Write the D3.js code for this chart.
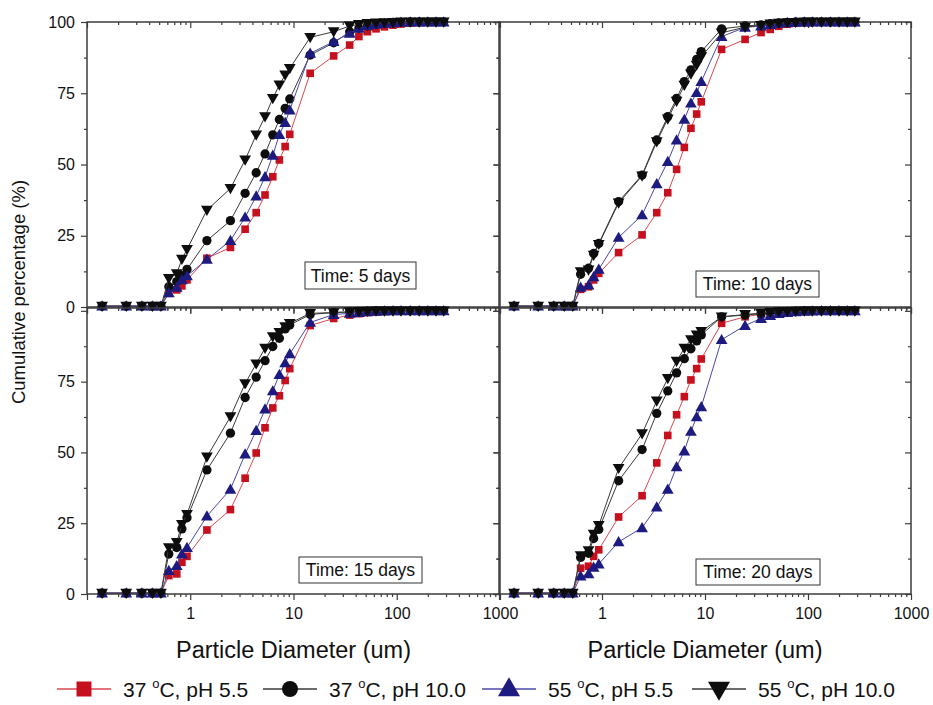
<!DOCTYPE html>
<html><head><meta charset="utf-8">
<script src="https://cdn.jsdelivr.net/npm/d3@7"></script>
<style>
body{margin:0;background:#fff}
svg{display:block}
text{font-family:"Liberation Sans",Arial,sans-serif;fill:#111}
</style>
</head><body>
<svg id="chart" width="933" height="705"></svg>
<script>
// ---------------- DATA ----------------
const diameters = [0.14,0.24,0.34,0.43,0.52,0.62,0.74,0.83,0.93,1.45,2.45,3.4,4.35,5.3,6.3,7.3,8.3,9.2,14.5,24.5,35,43,52,63,76,92,110,135,165,200,240,285];

const seriesTemps = ["37","37","55","55"];
const seriesPH = ["5.5","10.0","5.5","10.0"];
const panelTitles = ["Time: 5 days","Time: 10 days","Time: 15 days","Time: 20 days"];
const xTickValues = [0.1,1,10,100,1000];
const xTickLabels = ["","1","10","100","1000"];
const yTickValues = [0,25,50,75,100];
const yTickLabels = ["0","25","50","75","100"];

// Time: 5 days
const d5_37_55 = [0.3,0.3,0.3,0.3,0.3,4.8,6.0,7.4,9.5,17.1,20.9,27.3,33.1,39.3,45.7,51.6,56.3,60.6,82.0,88.1,91.9,94.9,96.6,97.6,98.3,98.9,99.3,99.6,99.8,99.9,100,100];
const d5_37_10 = [0.3,0.3,0.3,0.3,0.3,7.1,8.9,11.0,13.2,23.3,30.3,39.9,47.1,53.7,60.4,65.8,69.7,73.0,88.4,92.7,96.6,97.8,98.6,99.1,99.5,99.7,99.9,100,100,100,100,100];
const d5_55_55 = [0.3,0.3,0.3,0.3,0.3,5.0,6.9,9.5,10.9,16.7,23.3,31.5,38.9,45.7,53.2,60.5,64.7,69.1,89.0,93.1,96.0,97.8,98.7,99.2,99.5,99.7,99.9,100,100,100,100,100];
const d5_55_10 = [0.3,0.3,0.3,0.3,0.3,10.0,11.7,16.8,20.2,34.0,41.6,51.6,60.4,66.8,73.2,77.9,81.4,83.7,94.6,96.6,98.6,99.2,99.5,99.7,99.8,99.9,100,100,100,100,100,100];
// Time: 10 days
const d10_37_55 = [0.3,0.3,0.3,0.3,0.3,6.2,7.1,9.5,11.8,19.1,25.3,33.1,40.1,48.3,56.0,62.7,67.7,72.0,90.4,93.9,96.3,97.4,98.5,99.2,99.6,99.8,99.9,100,100,100,100,100];
const d10_37_10 = [0.3,0.3,0.3,0.3,0.3,11.5,13.6,18.8,22.3,37.0,46.3,58.6,66.8,73.2,79.1,83.2,86.9,89.6,97.6,98.6,99.0,99.4,99.7,99.9,100,100,100,100,100,100,100,100];
const d10_55_55 = [0.3,0.3,0.3,0.3,0.3,6.9,7.7,10.6,13.2,24.4,32.3,43.2,51.0,58.6,65.8,71.5,75.2,79.1,94.9,98.1,98.6,99.1,99.5,99.7,99.9,100,100,100,100,100,100,100];
const d10_55_10 = [0.3,0.3,0.3,0.3,0.3,12.4,13.0,18.2,22.0,36.5,46.0,58.0,66.0,72.2,77.8,81.8,84.9,87.8,96.2,98.2,98.8,99.3,99.6,99.8,99.9,100,100,100,100,100,100,100];
// Time: 15 days
const d15_37_55 = [0.3,0.3,0.3,0.3,0.3,6.5,7.1,11.2,13.3,22.6,29.8,40.9,49.8,58.7,65.7,70.0,75.4,79.6,94.8,97.3,98.5,99.0,99.4,99.6,99.8,99.9,100,100,100,100,100,100];
const d15_37_10 = [0.3,0.3,0.3,0.3,0.3,14.1,16.4,23.0,26.9,43.8,56.8,69.4,76.6,82.4,87.4,90.3,93.6,95.0,98.7,99.4,99.6,99.8,99.9,100,100,100,100,100,100,100,100,100];
const d15_55_55 = [0.3,0.3,0.3,0.3,0.3,8.3,10.0,14.1,16.4,27.5,37.0,49.4,57.7,65.3,71.7,77.5,81.6,84.8,95.9,98.7,99.1,99.4,99.6,99.8,99.9,100,100,100,100,100,100,100];
const d15_55_10 = [0.3,0.3,0.3,0.3,0.3,16.4,18.2,24.6,28.1,48.4,62.6,74.3,81.3,86.8,90.9,92.4,94.4,95.6,99.1,99.4,99.6,99.8,99.9,100,100,100,100,100,100,100,100,100];
// Time: 20 days
const d20_37_55 = [0.3,0.3,0.3,0.3,0.3,9.1,9.8,13.3,15.6,27.2,34.7,46.3,56.0,63.3,69.7,75.6,79.6,83.0,95.6,97.9,98.8,99.2,99.5,99.7,99.8,99.9,100,100,100,100,100,100];
const d20_37_10 = [0.3,0.3,0.3,0.3,0.3,12.9,14.4,19.6,22.8,40.0,51.0,63.8,71.7,78.1,83.1,86.6,89.4,91.5,97.9,98.5,99.0,99.4,99.6,99.8,99.9,100,100,100,100,100,100,100];
const d20_55_55 = [0.3,0.3,0.3,0.3,0.3,6.3,7.1,9.4,10.6,18.4,23.4,30.7,37.0,44.9,50.5,57.4,62.6,66.1,89.8,94.8,97.3,98.3,99.0,99.4,99.6,99.8,99.9,100,100,100,100,100];
const d20_55_10 = [0.3,0.3,0.3,0.3,0.3,13.5,15.3,21.1,24.2,44.4,56.6,68.2,76.1,82.2,86.8,89.8,91.5,92.7,97.9,98.7,99.2,99.5,99.7,99.8,99.9,100,100,100,100,100,100,100];

// ---------------- STYLE / LAYOUT ----------------
const markerColors = ["#c4111d","#0d0d0d","#1d1a80","#0d0d0d"];
const lineColors   = ["#d9474f","#3a3a3a","#4a48a8","#3a3a3a"];
const symbolTypes  = [d3.symbolSquare, d3.symbolCircle, d3.symbolTriangle, d3.symbolTriangle];
const symbolRot    = [0,0,0,180];
const symbolSizes  = [58,68,60,60];

const panels = [
  {x0:87, x1:500, y0:22, y1:307, top:100, data:[d5_37_55,d5_37_10,d5_55_55,d5_55_10], yLab:true, xLab:false, yTop:true, box:[305,262,111,27]},
  {x0:499,x1:911, y0:22, y1:307, top:100, data:[d10_37_55,d10_37_10,d10_55_55,d10_55_10], yLab:false, xLab:false, box:[696,271,123,26]},
  {x0:87, x1:500, y0:308,y1:594, top:101, data:[d15_37_55,d15_37_10,d15_55_55,d15_55_10], yLab:true, xLab:true, yTop:false, box:[299,557,123,26]},
  {x0:499,x1:911, y0:308,y1:594, top:101, data:[d20_37_55,d20_37_10,d20_55_55,d20_55_10], yLab:false, xLab:true, box:[696,559,124,26]}
];

const svg = d3.select("#chart");
const axisColor = "#3c3c3c";

const xMinor = [];
[0.1,1,10,100].forEach(d=>{for(let k=2;k<=9;k++) xMinor.push(+(d*k).toPrecision(3));});
const yMinor = [12.5,37.5,62.5,87.5];

function styleAxis(g){
  g.select(".domain").remove();
  g.selectAll("line").attr("stroke",axisColor).attr("stroke-width",1.2);
  g.selectAll("text").attr("font-size",16).attr("fill","#111")
   .style("font-family","'Liberation Sans',Arial,sans-serif");
}

panels.forEach((p,pi)=>{
  const x = d3.scaleLog().domain([0.1,1000]).range([p.x0,p.x1]);
  const y = d3.scaleLinear().domain([0,p.top]).range([p.y1,p.y0]);
  const g = svg.append("g");

  // bottom axis (ticks outward)
  const bMaj = d3.axisBottom(x).tickValues(xTickValues).tickSizeInner(6).tickSizeOuter(0).tickPadding(8)
      .tickFormat((d,i)=> p.xLab ? xTickLabels[i] : "");
  g.append("g").attr("transform",`translate(0,${p.y1})`).call(bMaj).call(styleAxis);
  g.append("g").attr("transform",`translate(0,${p.y1})`)
    .call(d3.axisBottom(x).tickValues(xMinor).tickSizeInner(3).tickSizeOuter(0).tickFormat(""))
    .call(styleAxis);
  // top axis (ticks inward)
  g.append("g").attr("transform",`translate(0,${p.y0})`)
    .call(d3.axisTop(x).tickValues(xTickValues).tickSizeInner(-6).tickSizeOuter(0).tickFormat("")).call(styleAxis);
  g.append("g").attr("transform",`translate(0,${p.y0})`)
    .call(d3.axisTop(x).tickValues(xMinor).tickSizeInner(-3).tickSizeOuter(0).tickFormat("")).call(styleAxis);
  // left axis (ticks outward)
  g.append("g").attr("transform",`translate(${p.x0},0)`)
    .call(d3.axisLeft(y).tickValues(yTickValues.filter(v=>v<=p.top)).tickSizeInner(6).tickSizeOuter(0).tickPadding(6)
      .tickFormat((d,i)=> (p.yLab && (p.yTop || d<100)) ? yTickLabels[i] : "")).call(styleAxis);
  g.append("g").attr("transform",`translate(${p.x0},0)`)
    .call(d3.axisLeft(y).tickValues(yMinor).tickSizeInner(3).tickSizeOuter(0).tickFormat("")).call(styleAxis);
  // right axis (ticks inward)
  g.append("g").attr("transform",`translate(${p.x1},0)`)
    .call(d3.axisRight(y).tickValues(yTickValues.filter(v=>v<=p.top)).tickSizeInner(-6).tickSizeOuter(0).tickFormat("")).call(styleAxis);
  g.append("g").attr("transform",`translate(${p.x1},0)`)
    .call(d3.axisRight(y).tickValues(yMinor).tickSizeInner(-3).tickSizeOuter(0).tickFormat("")).call(styleAxis);

  // frame
  g.append("rect").attr("x",p.x0).attr("y",p.y0).attr("width",p.x1-p.x0).attr("height",p.y1-p.y0)
    .attr("fill","none").attr("stroke",axisColor).attr("stroke-width",1.5);

  // series
  const line = d3.line().x(d=>x(d[0])).y(d=>y(d[1]));
  p.data.forEach((vals,si)=>{
    const pts = diameters.map((d,i)=>[d,vals[i]]);
    g.append("path").datum(pts).attr("d",line).attr("fill","none")
      .attr("stroke",lineColors[si]).attr("stroke-width",1);
    const sym = d3.symbol().type(symbolTypes[si]).size(symbolSizes[si]);
    g.selectAll(null).data(pts).enter().append("path")
      .attr("d",sym)
      .attr("transform",d=>`translate(${x(d[0])},${y(d[1]) + (si===3?-1: (si===2?1:0))}) rotate(${symbolRot[si]})`)
      .attr("fill",markerColors[si]);
  });

  // time box
  const [bx,by,bw,bh] = p.box;
  g.append("rect").attr("x",bx).attr("y",by).attr("width",bw).attr("height",bh)
    .attr("fill","#fff").attr("stroke","#333").attr("stroke-width",1);
  g.append("text").attr("x",bx+bw/2).attr("y",by+bh/2+6).attr("text-anchor","middle")
    .attr("font-size",17.5).text(panelTitles[pi]);
});

// axis titles
svg.append("text").attr("transform","translate(25,292) rotate(-90)").attr("text-anchor","middle")
  .attr("font-size",18.5).text("Cumulative percentage (%)");
[293.5,705].forEach(cx=>{
  svg.append("text").attr("x",cx).attr("y",658).attr("text-anchor","middle")
    .attr("font-size",23.5).text("Particle Diameter (um)");
});

// legend
const legX = [57,263,482,692];
const legY = 689;
seriesTemps.forEach((t,si)=>{
  const lx = legX[si];
  const lg = svg.append("g");
  lg.append("line").attr("x1",lx).attr("x2",lx+54).attr("y1",legY).attr("y2",legY)
    .attr("stroke",lineColors[si]).attr("stroke-width",1.5);
  lg.append("path").attr("d",d3.symbol().type(symbolTypes[si]).size(si===0?225:(si===1?200:210)))
    .attr("transform",`translate(${lx+27},${legY + (si===3?-1:(si===2?1:0))}) rotate(${symbolRot[si]})`)
    .attr("fill",markerColors[si]);
  const tx = lg.append("text").attr("x",lx+66).attr("y",legY+8).attr("font-size",21);
  tx.append("tspan").text(t+" ");
  tx.append("tspan").attr("font-size",13).attr("dy",-9).text("o");
  tx.append("tspan").attr("dy",9).text("C, pH "+seriesPH[si]);
});
</script>
</body></html>
